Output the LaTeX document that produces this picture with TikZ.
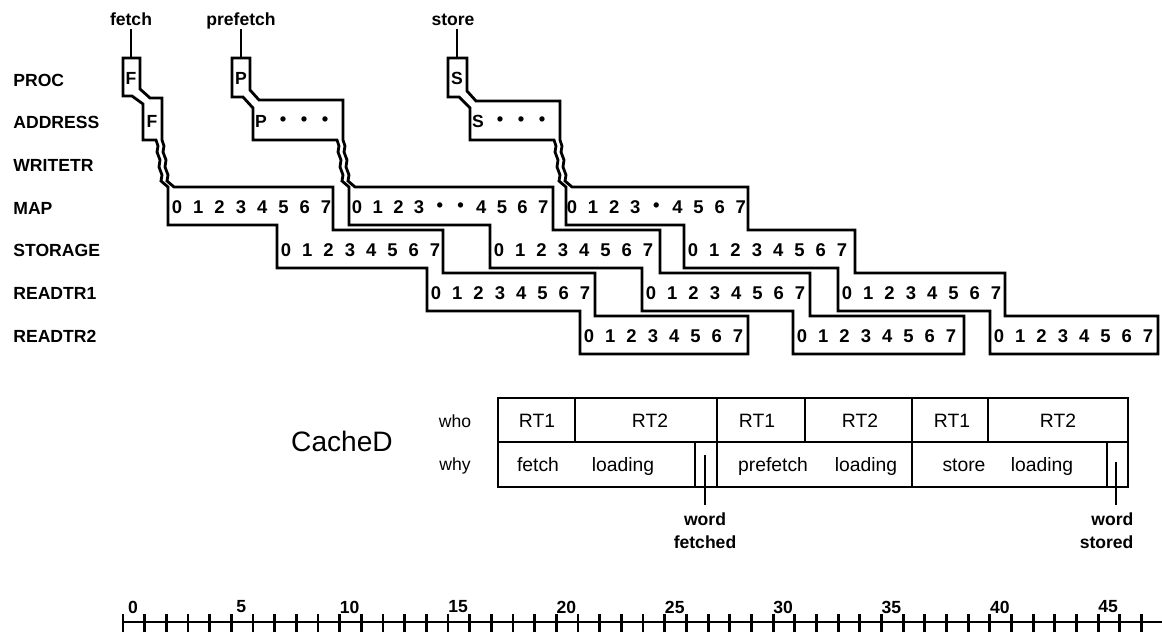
\documentclass[tikz,border=0pt]{standalone}
\usepackage{fontspec}
\setmainfont{Liberation Sans}

\begin{document}
\begin{tikzpicture}[x=0.02cm,y=-0.02cm,line width=1.6pt,
  lbl/.style={font=\bfseries\fontsize{10}{13}\selectfont,inner sep=0pt},
  toplbl/.style={lbl,anchor=base,text depth=0pt,inner sep=1pt},
  dig/.style={font=\bfseries\fontsize{10.5}{12}\selectfont,inner sep=0pt},
  cell/.style={font=\fontsize{11}{13}\selectfont,inner sep=0pt,anchor=base},
  num/.style={font=\bfseries\fontsize{10}{11}\selectfont,inner sep=0pt}]
  \useasboundingbox (0,0) rectangle (1162,634);
  % signal names
  \foreach \t [count=\k from 0] in {PROC,ADDRESS,WRITETR,MAP,STORAGE,READTR1,READTR2}
     \node[lbl,anchor=west] (row\k) at (12,{80+42.7*\k}) {\t};
  % fetch
  \node[toplbl] (fetchL) at (131,26) {fetch}; \coordinate (pF) at (131,58);
  \draw (fetchL.south) -- (pF);
  \draw (123,58) -- (140,58) -- (140,89) -- (150,98) -- (162,98) -- (162,140)
    -- ++(2,6) -- ++(-1,6) -- ++(3,8) -- ++(-1,7) -- ++(3,8) -- ++(-1,6) -- ++(7,6)
    -- (333,187) -- (333,230) -- (443,230) -- (443,273) -- (595,273) -- (595,316) -- (748,316) -- (748,354)
    -- (580,354) -- (580,311) -- (427,311) -- (427,268) -- (277,268) -- (277,225) -- (168,225) -- (168,187)
    -- ++(-7,-6) -- ++(1,-6) -- ++(-3,-8) -- ++(1,-7) -- ++(-3,-8) -- ++(1,-6) -- ++(-2,-6)
    -- (143,140) -- (143,104) -- (132,96) -- (123,96) -- cycle;
  \node[lbl] (pF1) at (131,78) {F}; \node[lbl] (aF1) at (152,121) {F};
  % prefetch
  \node[toplbl] (prefetchL) at (241,26) {prefetch}; \coordinate (pP) at (241,58);
  \draw (prefetchL.south) -- (pP);
  \draw (232,58) -- (250,58) -- (250,90) -- (259,100) -- (343,100) -- (343,140)
    -- ++(2,6) -- ++(-1,6) -- ++(3,8) -- ++(-1,7) -- ++(3,8) -- ++(-1,6) -- ++(7,6)
    -- (553,187) -- (553,230) -- (660,230) -- (660,273) -- (810,273) -- (810,316) -- (964,316) -- (964,354)
    -- (793,354) -- (793,311) -- (642,311) -- (642,268) -- (490,268) -- (490,225) -- (349,225) -- (349,187)
    -- ++(-7,-6) -- ++(1,-6) -- ++(-3,-8) -- ++(1,-7) -- ++(-3,-8) -- ++(1,-6) -- ++(-2,-6)
    -- (253,140) -- (253,108) -- (243,97) -- (232,97) -- cycle;
  \node[lbl] (pP1) at (241,78) {P}; \node[lbl] (aP1) at (261,121) {P};
  \foreach \x in {283,304,325} \node[dig] (aP\x) at (\x,121) {\textbullet};
  % store
  \node[toplbl] (storeL) at (453,26) {store}; \coordinate (pS) at (457,58);
  \draw (pS |- storeL.south) -- (pS);
  \draw (448,58) -- (467,58) -- (467,91) -- (476,101) -- (560,101) -- (560,140)
    -- ++(2,6) -- ++(-1,6) -- ++(3,8) -- ++(-1,7) -- ++(3,8) -- ++(-1,6) -- ++(7,6)
    -- (748,187) -- (748,230) -- (855,230) -- (855,273) -- (1005,273) -- (1005,316) -- (1158,316) -- (1158,354)
    -- (990,354) -- (990,311) -- (838,311) -- (838,268) -- (684,268) -- (684,225) -- (566,225) -- (566,187)
    -- ++(-7,-6) -- ++(1,-6) -- ++(-3,-8) -- ++(1,-7) -- ++(-3,-8) -- ++(1,-6) -- ++(-2,-6)
    -- (470,140) -- (470,108) -- (459,97) -- (448,97) -- cycle;
  \node[lbl] (pS1) at (457,78) {S}; \node[lbl] (aS1) at (478,121) {S};
  \foreach \x in {500,521,542} \node[dig] (aS\x) at (\x,121) {\textbullet};
  % words 0..7 in each stage
  \foreach \l/\k in {168/3,277/4,427/5,580/6,490/4,642/5,793/6,684/4,838/5,990/6}
    \foreach \d in {0,...,7}
      \node[dig] (w\l-\d) at ({\l+9+21.3*\d},{78+43*\k}) {\d};
  \foreach \d [count=\i from 0] in {0,1,2,3,\textbullet,\textbullet,4,5,6,7}
    \node[dig] (mP\i) at ({357+20.7*\i},207) {\d};
  \foreach \d [count=\i from 0] in {0,1,2,3,\textbullet,4,5,6,7}
    \node[dig] (mS\i) at ({572+21.1*\i},207) {\d};
  % CacheD
  \node[font=\fontsize{16}{18}\selectfont,inner sep=0pt,anchor=base] (cached) at (342,451) {CacheD};
  \node[cell,font=\fontsize{10}{11}\selectfont] (who) at (455,427) {who};
  \node[cell,font=\fontsize{10}{11}\selectfont] (why) at (455,470) {why};
  \draw (498,398) rectangle (1128,487); \draw (498,442) -- (1128,442);
  \foreach \x in {717,912} \draw (\x,398) -- (\x,487);
  \foreach \x in {575,805,988} \draw (\x,398) -- (\x,442);
  \foreach \x in {695,1107} \draw (\x,442) -- (\x,487);
  \foreach \x/\t [count=\i] in {537/RT1,650/RT2,757/RT1,860/RT2,952/RT1,1058/RT2}
    \node[cell] (who\i) at (\x,427) {\t};
  \foreach \x/\t [count=\i] in {538/fetch,623/loading,773/prefetch,866/loading,964/store,1042/loading}
    \node[cell] (why\i) at (\x,471) {\t};
  \coordinate (wfT) at (705,455); \coordinate (wsT) at (1116,462);
  \node[lbl,inner sep=3.5pt,anchor=north,align=center] (wf) at (705,505) {word\\fetched};
  \node[lbl,inner sep=3.5pt,anchor=north east,align=right] (ws) at (1141,505) {word\\stored};
  \draw (wfT) -- (wf.north); \draw (wsT) -- (wsT |- ws.north);
  % time scale
  \draw[line width=1.2pt] (123,622) -- (1162,622);
  \foreach \i in {0,...,47} \draw[line width=1.6pt] ({123+21.67*\i},614) -- ({123+21.67*\i},632);
  \foreach \i in {0,5,...,45} \node[num] (n\i) at ({133+21.67*\i},607) {\i};
\end{tikzpicture}
\end{document}
